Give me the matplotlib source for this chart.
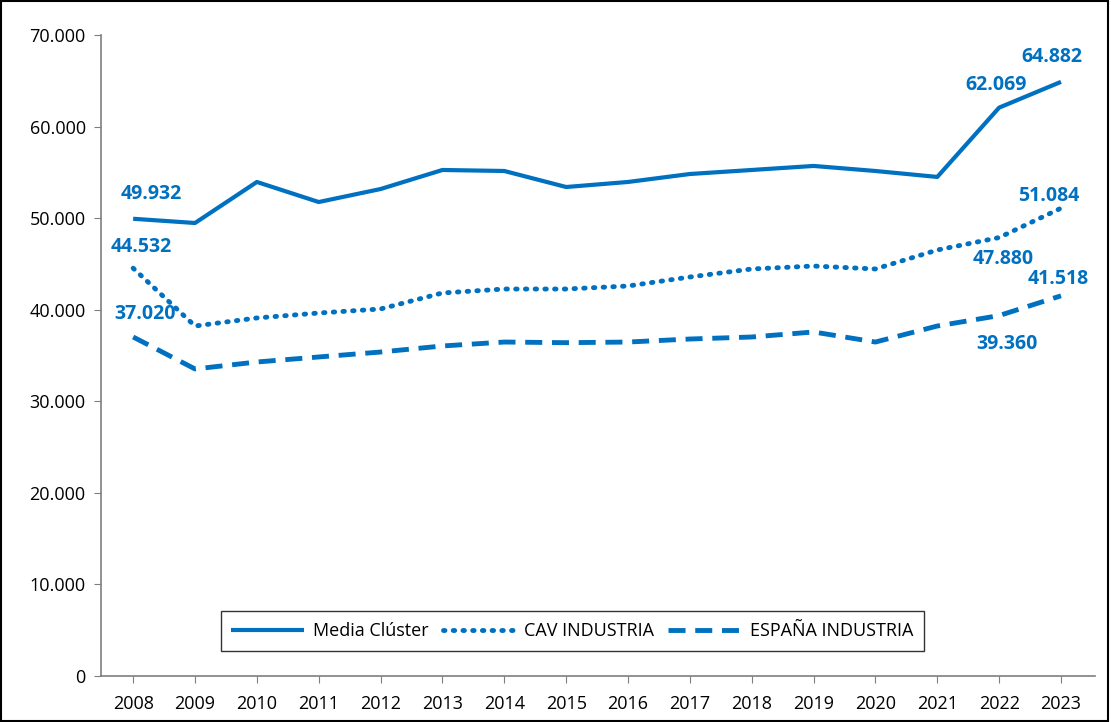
import matplotlib
matplotlib.use("Agg")
import matplotlib.pyplot as plt
from matplotlib.patches import Rectangle

years = list(range(2008, 2024))
media_cluster = [49932, 49470, 53950, 51760, 53180, 55260, 55150, 53400,
                 53950, 54820, 55260, 55700, 55150, 54500, 62069, 64882]
cav_industria = [44532, 38220, 39100, 39640, 40080, 41830, 42260, 42260,
                 42590, 43570, 44450, 44770, 44450, 46520, 47880, 51084]
espana_industria = [37020, 33530, 34290, 34840, 35380, 36040, 36470, 36400,
                    36470, 36800, 37020, 37570, 36470, 38220, 39360, 41518]

BLUE = "#0070C0"
plt.rcParams["font.family"] = ["Open Sans", "DejaVu Sans"]


def fmt(v):
    return f"{v:,}".replace(",", ".")


fig = plt.figure(figsize=(11.11, 7.22), dpi=100)
ax = fig.add_axes([101 / 1111, 1 - 676 / 722, (1095 - 101) / 1111, (676 - 35) / 722])

x = list(range(len(years)))
ax.plot(x, media_cluster, color=BLUE, lw=3, solid_capstyle="butt", label="Media Clúster")
ax.plot(x, cav_industria, color=BLUE, lw=3.5, linestyle=(0, (0.3, 1.7)),
        dash_capstyle="round", label="CAV INDUSTRIA")
ax.plot(x, espana_industria, color=BLUE, lw=3.5, linestyle=(0, (3.5, 2)),
        label="ESPAÑA INDUSTRIA")

ax.set_xlim(-0.52, len(years) - 0.45)
ax.set_ylim(0, 70000)
ax.set_yticks(range(0, 70001, 10000))
ax.set_yticklabels([fmt(v) for v in range(0, 70001, 10000)])
ax.set_xticks(x)
ax.set_xticklabels([str(y) for y in years])
ax.tick_params(axis="both", labelsize=13, color="#7f7f7f", length=5, direction="out")
ax.tick_params(axis="x", pad=9)
ax.tick_params(axis="y", pad=6)

for s in ["top", "right"]:
    ax.spines[s].set_visible(False)
for s in ["left", "bottom"]:
    ax.spines[s].set_color("#7f7f7f")
    ax.spines[s].set_linewidth(1.2)

# data labels
lab = dict(color=BLUE, fontsize=14, fontweight="bold", ha="center", va="center")
ax.text(0.30, 52640, fmt(media_cluster[0]), **lab)
ax.text(0.13, 46850, fmt(cav_industria[0]), **lab)
ax.text(0.20, 39530, fmt(espana_industria[0]), **lab)
ax.text(13.95, 64540, fmt(media_cluster[14]), **lab)
ax.text(14.86, 67600, fmt(media_cluster[15]), **lab)
ax.text(14.8, 52420, fmt(cav_industria[15]), **lab)
ax.text(14.06, 45540, fmt(cav_industria[14]), **lab)
ax.text(14.96, 43360, fmt(espana_industria[15]), **lab)
ax.text(14.12, 36260, fmt(espana_industria[14]), **lab)

leg = ax.legend(loc="lower center", bbox_to_anchor=(0.474, 0.025), ncol=3,
                frameon=True, fancybox=False, fontsize=13, handlelength=4,
                columnspacing=0.8, handletextpad=0.5, borderpad=0.6)
leg.get_frame().set_edgecolor("black")
leg.get_frame().set_linewidth(1)

fig.patches.append(Rectangle((0.001, 0.001), 0.996, 0.997, transform=fig.transFigure,
                             fill=False, edgecolor="black", lw=1.5))

fig.savefig("out.png", dpi=100)
